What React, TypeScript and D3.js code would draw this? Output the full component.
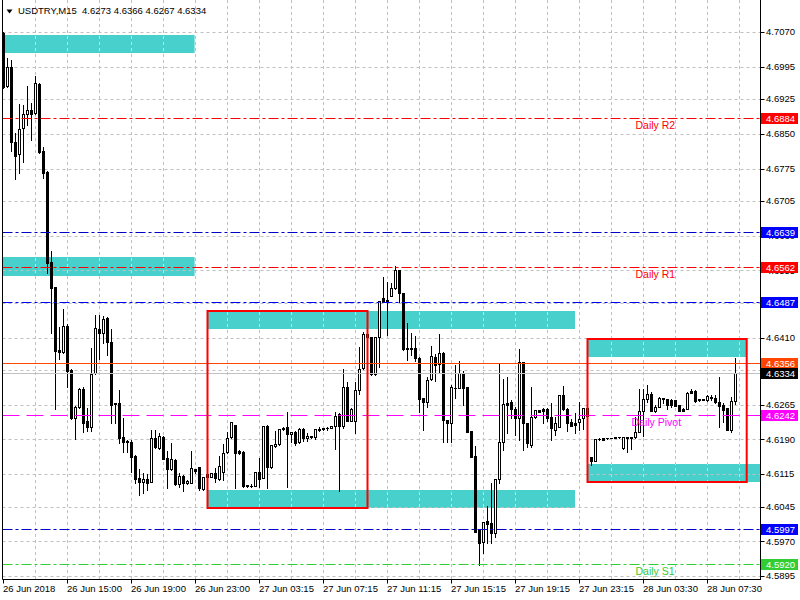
import React from "react";
import * as d3 from "d3";

const W = 800;
const H = 600;
const PL = 2.5;
const PR = 760.5;
const PB = 579.5;

const barOpen = [
  4.7068, 4.6953, 4.6994, 4.6832, 4.6806, 4.6863, 4.6893, 4.6901, 4.6895, 4.6958,
  4.6813, 4.6768, 4.6573, 4.6519, 4.6383, 4.6379, 4.6435, 4.6340, 4.6236, 4.6260,
  4.6299, 4.6230, 4.6217, 4.6333, 4.6428, 4.6420, 4.6452, 4.6400, 4.6269, 4.6269,
  4.6195, 4.6187, 4.6184, 4.6154, 4.6107, 4.6098, 4.6104, 4.6098, 4.6193, 4.6171,
  4.6195, 4.6150, 4.6126, 4.6146, 4.6094, 4.6111, 4.6096, 4.6096, 4.6126, 4.6130,
  4.6083, 4.6109, 4.6109, 4.6117, 4.6104, 4.6120, 4.6163, 4.6195, 4.6221, 4.6165,
  4.6163, 4.6092, 4.6089, 4.6089, 4.6120, 4.6107, 4.6219, 4.6130, 4.6176, 4.6180,
  4.6212, 4.6217, 4.6202, 4.6206, 4.6184, 4.6212, 4.6193, 4.6197, 4.6195, 4.6212,
  4.6215, 4.6214, 4.6215, 4.6219, 4.6245, 4.6219, 4.6303, 4.6230, 4.6230, 4.6297,
  4.6344, 4.6418, 4.6411, 4.6331, 4.6411, 4.6495, 4.6491, 4.6500, 4.6517, 4.6556,
  4.6506, 4.6387, 4.6385, 4.6387, 4.6366, 4.6279, 4.6271, 4.6320, 4.6368, 4.6353,
  4.6377, 4.6232, 4.6225, 4.6301, 4.6301, 4.6333, 4.6303, 4.6208, 4.6154, 4.5994,
  4.5968, 4.6014, 4.6009, 4.5988, 4.6104, 4.6184, 4.6269, 4.6271, 4.6256, 4.6236,
  4.6357, 4.6225, 4.6178, 4.6238, 4.6253, 4.6256, 4.6256, 4.6238, 4.6210, 4.6217,
  4.6286, 4.6256, 4.6228, 4.6225, 4.6228, 4.6236, 4.6258, 4.6152, 4.6143, 4.6191,
  4.6193, 4.6192, 4.6193, 4.6194, 4.6195, 4.6171, 4.6195, 4.6194, 4.6195, 4.6206,
  4.6251, 4.6277, 4.6288, 4.6252, 4.6260, 4.6279, 4.6277, 4.6275, 4.6275, 4.6264,
  4.6256, 4.6256, 4.6295, 4.6295, 4.6275, 4.6276, 4.6275, 4.6282, 4.6279, 4.6271,
  4.6264, 4.6258, 4.6210, 4.6273,
];

const barHigh = [
  4.7070, 4.7014, 4.7010, 4.6852, 4.6914, 4.6912, 4.6953, 4.6917, 4.6975, 4.6960,
  4.6822, 4.6770, 4.6597, 4.6519, 4.6433, 4.6472, 4.6439, 4.6342, 4.6262, 4.6301,
  4.6303, 4.6258, 4.6387, 4.6459, 4.6459, 4.6457, 4.6454, 4.6428, 4.6269, 4.6297,
  4.6236, 4.6189, 4.6189, 4.6156, 4.6126, 4.6117, 4.6115, 4.6210, 4.6210, 4.6204,
  4.6197, 4.6165, 4.6182, 4.6148, 4.6117, 4.6113, 4.6102, 4.6165, 4.6127, 4.6131,
  4.6109, 4.6117, 4.6117, 4.6128, 4.6154, 4.6180, 4.6206, 4.6228, 4.6222, 4.6167,
  4.6164, 4.6092, 4.6094, 4.6120, 4.6150, 4.6219, 4.6221, 4.6178, 4.6208, 4.6212,
  4.6217, 4.6249, 4.6207, 4.6208, 4.6214, 4.6214, 4.6204, 4.6198, 4.6212, 4.6217,
  4.6215, 4.6217, 4.6219, 4.6249, 4.6246, 4.6342, 4.6314, 4.6257, 4.6314, 4.6390,
  4.6422, 4.6426, 4.6412, 4.6411, 4.6489, 4.6541, 4.6530, 4.6528, 4.6565, 4.6557,
  4.6506, 4.6441, 4.6420, 4.6413, 4.6367, 4.6280, 4.6325, 4.6392, 4.6374, 4.6418,
  4.6378, 4.6233, 4.6308, 4.6351, 4.6359, 4.6338, 4.6304, 4.6208, 4.6176, 4.5994,
  4.6012, 4.6046, 4.6096, 4.6104, 4.6355, 4.6320, 4.6325, 4.6275, 4.6260, 4.6385,
  4.6358, 4.6226, 4.6303, 4.6254, 4.6254, 4.6257, 4.6257, 4.6269, 4.6238, 4.6286,
  4.6305, 4.6257, 4.6234, 4.6247, 4.6271, 4.6258, 4.6258, 4.6153, 4.6191, 4.6192,
  4.6194, 4.6193, 4.6194, 4.6195, 4.6196, 4.6195, 4.6196, 4.6195, 4.6238, 4.6299,
  4.6299, 4.6308, 4.6292, 4.6264, 4.6282, 4.6280, 4.6278, 4.6277, 4.6276, 4.6265,
  4.6257, 4.6292, 4.6299, 4.6296, 4.6277, 4.6277, 4.6285, 4.6286, 4.6286, 4.6325,
  4.6269, 4.6258, 4.6282, 4.6366,
];

const barLow = [
  4.6949, 4.6951, 4.6813, 4.6752, 4.6765, 4.6789, 4.6869, 4.6837, 4.6893, 4.6809,
  4.6755, 4.6549, 4.6420, 4.6256, 4.6364, 4.6377, 4.6303, 4.6235, 4.6191, 4.6258,
  4.6206, 4.6208, 4.6208, 4.6331, 4.6364, 4.6398, 4.6372, 4.6225, 4.6225, 4.6182,
  4.6163, 4.6163, 4.6120, 4.6096, 4.6070, 4.6074, 4.6081, 4.6097, 4.6171, 4.6169,
  4.6147, 4.6085, 4.6124, 4.6092, 4.6087, 4.6079, 4.6094, 4.6095, 4.6117, 4.6081,
  4.6081, 4.6104, 4.6108, 4.6098, 4.6102, 4.6102, 4.6161, 4.6193, 4.6085, 4.6158,
  4.6087, 4.6088, 4.6087, 4.6089, 4.6087, 4.6107, 4.6085, 4.6129, 4.6174, 4.6179,
  4.6210, 4.6087, 4.6184, 4.6178, 4.6183, 4.6187, 4.6187, 4.6194, 4.6191, 4.6208,
  4.6211, 4.6210, 4.6214, 4.6169, 4.6079, 4.6215, 4.6229, 4.6229, 4.6204, 4.6288,
  4.6342, 4.6394, 4.6329, 4.6329, 4.6346, 4.6487, 4.6415, 4.6500, 4.6515, 4.6487,
  4.6383, 4.6361, 4.6372, 4.6359, 4.6249, 4.6210, 4.6260, 4.6319, 4.6316, 4.6333,
  4.6184, 4.6184, 4.6184, 4.6279, 4.6300, 4.6264, 4.6206, 4.6152, 4.5990, 4.5919,
  4.5945, 4.5966, 4.5966, 4.5979, 4.6096, 4.6167, 4.6204, 4.6236, 4.6200, 4.6189,
  4.6167, 4.6174, 4.6174, 4.6236, 4.6249, 4.6225, 4.6230, 4.6189, 4.6200, 4.6216,
  4.6253, 4.6209, 4.6219, 4.6204, 4.6210, 4.6212, 4.6238, 4.6135, 4.6143, 4.6189,
  4.6189, 4.6191, 4.6192, 4.6193, 4.6194, 4.6170, 4.6163, 4.6169, 4.6194, 4.6205,
  4.6197, 4.6271, 4.6251, 4.6249, 4.6259, 4.6269, 4.6256, 4.6260, 4.6262, 4.6251,
  4.6251, 4.6255, 4.6290, 4.6271, 4.6274, 4.6275, 4.6274, 4.6275, 4.6269, 4.6217,
  4.6228, 4.6210, 4.6206, 4.6267,
];

const barClose = [
  4.6951, 4.6994, 4.6832, 4.6802, 4.6860, 4.6893, 4.6901, 4.6893, 4.6960, 4.6811,
  4.6765, 4.6571, 4.6517, 4.6381, 4.6379, 4.6435, 4.6338, 4.6237, 4.6260, 4.6299,
  4.6225, 4.6217, 4.6331, 4.6431, 4.6420, 4.6450, 4.6400, 4.6264, 4.6266, 4.6193,
  4.6184, 4.6184, 4.6152, 4.6104, 4.6098, 4.6104, 4.6096, 4.6193, 4.6174, 4.6197,
  4.6148, 4.6126, 4.6148, 4.6094, 4.6111, 4.6096, 4.6100, 4.6128, 4.6122, 4.6085,
  4.6109, 4.6115, 4.6117, 4.6107, 4.6133, 4.6161, 4.6193, 4.6227, 4.6161, 4.6161,
  4.6089, 4.6089, 4.6090, 4.6120, 4.6104, 4.6219, 4.6130, 4.6178, 4.6180, 4.6212,
  4.6215, 4.6202, 4.6206, 4.6182, 4.6212, 4.6193, 4.6197, 4.6195, 4.6212, 4.6211,
  4.6212, 4.6215, 4.6219, 4.6241, 4.6219, 4.6303, 4.6230, 4.6256, 4.6297, 4.6342,
  4.6418, 4.6411, 4.6331, 4.6411, 4.6489, 4.6487, 4.6487, 4.6517, 4.6556, 4.6506,
  4.6385, 4.6385, 4.6387, 4.6366, 4.6277, 4.6271, 4.6318, 4.6370, 4.6351, 4.6377,
  4.6232, 4.6225, 4.6303, 4.6302, 4.6333, 4.6301, 4.6207, 4.6153, 4.5991, 4.5966,
  4.6012, 4.6007, 4.5988, 4.6104, 4.6184, 4.6266, 4.6264, 4.6256, 4.6236, 4.6357,
  4.6225, 4.6182, 4.6238, 4.6253, 4.6250, 4.6251, 4.6236, 4.6215, 4.6225, 4.6286,
  4.6256, 4.6225, 4.6220, 4.6221, 4.6234, 4.6257, 4.6241, 4.6143, 4.6191, 4.6190,
  4.6189, 4.6193, 4.6194, 4.6195, 4.6195, 4.6195, 4.6194, 4.6195, 4.6206, 4.6251,
  4.6277, 4.6288, 4.6252, 4.6260, 4.6279, 4.6277, 4.6264, 4.6264, 4.6263, 4.6252,
  4.6252, 4.6290, 4.6291, 4.6272, 4.6277, 4.6277, 4.6284, 4.6279, 4.6270, 4.6262,
  4.6253, 4.6211, 4.6273, 4.6334,
];

const symbolName = "USDTRY,M15";

const timeTickBars = [0, 16, 32, 48, 64, 80, 96, 112, 128, 144, 160, 176];
const timeTickLabels = [
  "26 Jun 2018", "26 Jun 15:00", "26 Jun 19:00", "26 Jun 23:00",
  "27 Jun 03:15", "27 Jun 07:15", "27 Jun 11:15", "27 Jun 15:15",
  "27 Jun 19:15", "27 Jun 23:15", "28 Jun 03:30", "28 Jun 07:30",
];

const priceTicks = [
  4.7070, 4.6995, 4.6925, 4.6850, 4.6775, 4.6705, 4.6630, 4.6555, 4.6485,
  4.6410, 4.6340, 4.6265, 4.6190, 4.6115, 4.6045, 4.5970, 4.5895,
];

const levelPrices = [4.6884, 4.6639, 4.6562, 4.6487, 4.6356, 4.6334, 4.6242, 4.5997, 4.5920];
const levelKinds = ["r", "b", "r", "b2", "ask", "bid", "pivot", "b", "s"];

const zoneBarStart = [0, 0, 51, 51, 146, 146];
const zoneBarEnd = [47.9, 47.9, 143, 143, 185.8, 190];
const zoneTop = [4.7063, 4.6584, 4.6467, 4.6081, 4.6407, 4.6137];
const zoneBottom = [4.7024, 4.6543, 4.6428, 4.6041, 4.6367, 4.6097];

const boxBarStart = [51, 146];
const boxBarEnd = [91, 185.8];
const boxTop = [4.6467, 4.6407];
const boxBottom = [4.6041, 4.6097];

const pivotNames = ["Daily R2", "Daily R1", "Daily Pivot", "Daily S1"];
const pivotPrices = [4.6884, 4.6562, 4.6242, 4.5920];
const pivotBars = [158, 158, 157, 158];
const pivotKinds = ["r", "r", "pivot", "s"];

const STYLE: Record<string, { color: string; dash: string | undefined; bg: string }> = {
  r: { color: "#ff0000", dash: "10,3,3,3", bg: "#ff0000" },
  b: { color: "#0000c8", dash: "10,3,3,3", bg: "#0000ff" },
  b2: { color: "#0000ff", dash: "10,3,3,3", bg: "#0000ff" },
  ask: { color: "#ff4500", dash: undefined, bg: "#ff4500" },
  bid: { color: "#c0c0c0", dash: undefined, bg: "#000000" },
  pivot: { color: "#ff00ff", dash: "17,7", bg: "#ff00ff" },
  s: { color: "#32cd32", dash: "10,3,3,3", bg: "#32cd32" },
};

const FONT = "'Liberation Sans', Arial, sans-serif";

export default function App() {
  const n = barOpen.length;
  const x = d3.scaleLinear().domain([0, n - 1]).range([3.5, 3.5 + 4 * (n - 1)]);
  const y = d3.scaleLinear().domain([4.5895, 4.707]).range([576, 32]);
  const sy = (v: number) => Math.round(y(v)) + 0.5;
  const fmt = d3.format(".4f");

  const gridBars = d3.range(8, n + 2, 8);
  const last = n - 1;
  const header = `${symbolName}  ${fmt(barOpen[last])} ${fmt(barHigh[last])} ${fmt(barLow[last])} ${fmt(barClose[last])}`;

  const zoneRects = zoneTop.map((t, k) => ({
    x: x(zoneBarStart[k]) - 0.5,
    y: Math.round(y(t)),
    w: x(zoneBarEnd[k]) - x(zoneBarStart[k]),
    h: Math.round(y(zoneBottom[k])) - Math.round(y(t)),
  }));

  const candles = d3.range(n).map((i) => {
    const o = barOpen[i];
    const c = barClose[i];
    const hi = Math.max(barHigh[i], o, c);
    const lo = Math.min(barLow[i], o, c);
    const cx = x(i);
    const yH = Math.round(y(hi));
    const yL = Math.round(y(lo));
    const yO = Math.round(y(o));
    const yC = Math.round(y(c));
    let body: React.ReactNode;
    if (yC > yO) {
      body = <rect x={cx - 1.5} y={yO} width={3} height={yC - yO + 1} fill="#000" />;
    } else if (yC < yO) {
      const top = yC;
      const bot = yO;
      body =
        bot - top >= 2 ? (
          <rect x={cx - 1} y={top + 0.5} width={2} height={bot - top} fill="#fff" stroke="#000" strokeWidth={1} />
        ) : (
          <rect x={cx - 1.5} y={top} width={3} height={bot - top + 1} fill="#000" />
        );
    } else {
      body = <rect x={cx - 1.5} y={yO} width={3} height={1} fill="#000" />;
    }
    return (
      <g key={i}>
        <line x1={cx} x2={cx} y1={yH} y2={yL + 1} stroke="#000" strokeWidth={1} />
        {body}
      </g>
    );
  });

  return (
    <svg
      width={W}
      height={H}
      viewBox={`0 0 ${W} ${H}`}
      style={{ position: "absolute", left: 0, top: 0, background: "#fff", display: "block" }}
      fontFamily={FONT}
    >
      <defs>
        <clipPath id="plot">
          <rect x={PL} y={0} width={PR - PL} height={PB} />
        </clipPath>
        <clipPath id="zones">
          {zoneRects.map((r, k) => (
            <rect key={k} x={r.x} y={r.y} width={r.w} height={r.h} />
          ))}
        </clipPath>
      </defs>
      <rect x={0} y={0} width={W} height={H} fill="#fff" />

      <g clipPath="url(#plot)">
        {/* vertical grid */}
        {gridBars.map((b) => (
          <line key={"vg" + b} x1={x(b)} x2={x(b)} y1={0} y2={PB} stroke="#c0c0c0" strokeDasharray="3,3" />
        ))}

        {/* zones */}
        {zoneRects.map((r, k) => (
          <rect key={"z" + k} x={r.x} y={r.y} width={r.w} height={r.h} fill="#48d1cc" />
        ))}

        {/* vertical grid seen through zones (lighter) */}
        <g clipPath="url(#zones)">
          {gridBars.map((b) => (
            <line key={"vz" + b} x1={x(b)} x2={x(b)} y1={0} y2={PB} stroke="#a9efec" strokeDasharray="3,3" />
          ))}
        </g>

        {/* horizontal grid */}
        {priceTicks.map((p, k) => (
          <line key={"hg" + k} x1={PL} x2={PR} y1={sy(p)} y2={sy(p)} stroke="#c0c0c0" strokeDasharray="3,3" />
        ))}

        {candles}

        {/* level lines */}
        {levelPrices.map((p, k) => {
          const st = STYLE[levelKinds[k]];
          return (
            <line
              key={"lv" + k}
              x1={PL}
              x2={PR}
              y1={sy(p)}
              y2={sy(p)}
              stroke={st.color}
              strokeWidth={1}
              strokeDasharray={st.dash}
            />
          );
        })}

        {/* red boxes */}
        {boxTop.map((t, k) => (
          <rect
            key={"bx" + k}
            x={x(boxBarStart[k])}
            y={Math.round(y(t))}
            width={x(boxBarEnd[k]) - x(boxBarStart[k])}
            height={Math.round(y(boxBottom[k])) - Math.round(y(t))}
            fill="none"
            stroke="#ff0000"
            strokeWidth={2}
          />
        ))}

        {/* pivot texts */}
        {pivotNames.map((nm, k) => (
          <text
            key={"pt" + k}
            x={x(pivotBars[k])}
            y={y(pivotPrices[k]) + 10.5}
            fontSize={10.5}
            fill={STYLE[pivotKinds[k]].color}
          >
            {nm}
          </text>
        ))}
      </g>

      {/* frame */}
      <line x1={PL} x2={PL} y1={0} y2={PB} stroke="#000" />
      <line x1={PR} x2={PR} y1={0} y2={PB + 0.5} stroke="#000" />
      <line x1={PL} x2={PR} y1={PB} y2={PB} stroke="#000" />

      {/* price axis */}
      {priceTicks.map((p, k) => (
        <g key={"pa" + k}>
          <line x1={PR} x2={PR + 4} y1={sy(p)} y2={sy(p)} stroke="#000" />
          <text x={766} y={y(p)} dy="0.35em" fontSize={9.5} fill="#000">
            {fmt(p)}
          </text>
        </g>
      ))}

      {/* level labels */}
      {levelPrices.map((p, k) => {
        const st = STYLE[levelKinds[k]];
        const yc = Math.round(y(p));
        return (
          <g key={"ll" + k}>
            <rect x={761} y={yc - 5} width={37} height={11} fill={st.bg} />
            <text x={766} y={yc + 0.5} dy="0.35em" fontSize={9.5} fill="#fff">
              {fmt(p)}
            </text>
          </g>
        );
      })}

      {/* time axis */}
      {timeTickBars.map((b, k) => (
        <g key={"ta" + k}>
          <line x1={x(b)} x2={x(b)} y1={PB} y2={PB + 4} stroke="#000" />
          <text x={x(b) - 0.5} y={592} fontSize={9.5} fill="#000">
            {timeTickLabels[k]}
          </text>
        </g>
      ))}

      {/* header */}
      <path d="M6.5,9.5 L12.5,9.5 L9.5,13.5 Z" fill="#000" />
      <text x={18} y={14} fontSize={9.5} fill="#000" style={{ whiteSpace: "pre" }}>
        {header}
      </text>
    </svg>
  );
}
